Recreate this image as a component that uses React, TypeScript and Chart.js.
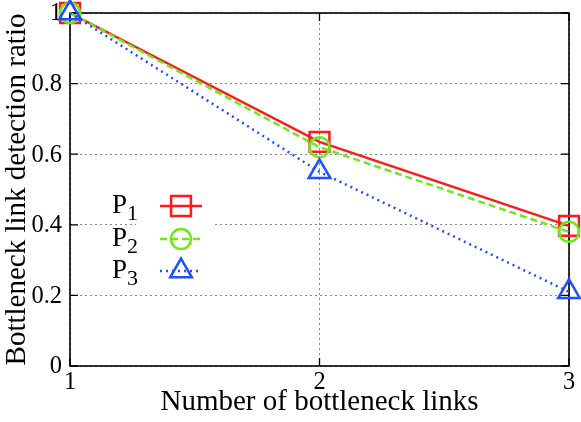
import React, { useEffect, useRef } from "react";
import { Chart, registerables } from "chart.js";

Chart.register(...registerables);

const categories = [1, 2, 3];
const p1 = [1.0, 0.635, 0.397];
const p2 = [1.0, 0.62, 0.38];
const p3 = [1.0, 0.55, 0.21];
const seriesNames = ["P1", "P2", "P3"];
const yTicks = [0, 0.2, 0.4, 0.6, 0.8, 1];
const xTitle = "Number of bottleneck links";
const yTitle = "Bottleneck link detection ratio";

const RED = "#ff1a1a";
const GREEN = "#6ee81a";
const BLUE = "#1f4fff";
const FONT = "'Liberation Serif', 'DejaVu Serif', serif";

function drawMarker(ctx: CanvasRenderingContext2D, style: string, radius: number, x: number, y: number) {
  ctx.beginPath();
  if (style === "rect") {
    const s = radius / Math.SQRT2;
    ctx.rect(x - s, y - s, 2 * s, 2 * s);
  } else if (style === "circle") {
    ctx.arc(x, y, radius, 0, Math.PI * 2);
  } else {
    const h = radius;
    ctx.moveTo(x, y - h);
    ctx.lineTo(x + h * Math.sin(Math.PI / 3), y + h * 0.5);
    ctx.lineTo(x - h * Math.sin(Math.PI / 3), y + h * 0.5);
    ctx.closePath();
  }
  ctx.stroke();
}

const framePlugin = {
  id: "frame",
  beforeDatasetsDraw(chart: any) {
    const { ctx, chartArea: a, scales } = chart;
    ctx.save();
    ctx.strokeStyle = "#000";
    ctx.lineWidth = 1.3;
    const ys = scales.y;
    const xs = scales.x;
    ctx.fillStyle = "#000";
    ctx.font = `24.5px ${FONT}`;
    yTicks.forEach((v) => {
      const py = ys.getPixelForValue(v);
      ctx.beginPath();
      ctx.moveTo(a.left, py);
      ctx.lineTo(a.left + 8, py);
      ctx.moveTo(a.right, py);
      ctx.lineTo(a.right - 8, py);
      ctx.stroke();
      ctx.textAlign = "right";
      ctx.textBaseline = "middle";
      ctx.fillText(String(v), a.left - 8, py + 1);
    });
    categories.forEach((v) => {
      const px = xs.getPixelForValue(v);
      ctx.beginPath();
      ctx.moveTo(px, a.bottom);
      ctx.lineTo(px, a.bottom - 8);
      ctx.moveTo(px, a.top);
      ctx.lineTo(px, a.top + 8);
      ctx.stroke();
      ctx.textAlign = "center";
      ctx.textBaseline = "top";
      ctx.fillText(String(v), px, a.bottom + 4);
    });
    ctx.lineWidth = 1.6;
    ctx.strokeRect(a.left, a.top, a.right - a.left, a.bottom - a.top);
    ctx.restore();
  },
  afterDatasetsDraw(chart: any) {
    const { ctx } = chart;
    ctx.save();
    ctx.fillStyle = "#fff";
    ctx.fillRect(136, 192, 76, 96);
    const rows = [
      { y: 206, color: RED, dash: [] as number[], style: "rect", radius: 14 },
      { y: 239, color: GREEN, dash: [7, 4], style: "circle", radius: 10 },
      { y: 271, color: BLUE, dash: [2, 4], style: "triangle", radius: 12.5 },
    ];
    rows.forEach((r, i) => {
      ctx.fillStyle = "#000";
      ctx.textBaseline = "alphabetic";
      ctx.textAlign = "left";
      ctx.font = `27px ${FONT}`;
      const name = seriesNames[i];
      ctx.fillText(name.charAt(0), 112, r.y + 7);
      const w = ctx.measureText(name.charAt(0)).width;
      ctx.font = `22px ${FONT}`;
      ctx.fillText(name.slice(1), 112 + w, r.y + 14);
      ctx.strokeStyle = r.color;
      ctx.lineWidth = 2.5;
      ctx.setLineDash(r.dash);
      ctx.beginPath();
      ctx.moveTo(160, r.y);
      ctx.lineTo(202, r.y);
      ctx.stroke();
      ctx.setLineDash([]);
      drawMarker(ctx, r.style, r.radius, 181, r.y);
    });
    ctx.restore();
  },
};

export default function App() {
  const ref = useRef<HTMLCanvasElement>(null);
  useEffect(() => {
    document.body.style.margin = "0";
    const mk = (label: string, data: number[], color: string, dash: number[], style: string, r: number, order: number) => ({
      label,
      data: categories.map((c, i) => ({ x: c, y: data[i] })),
      borderColor: color,
      backgroundColor: "transparent",
      borderWidth: 2.5,
      borderDash: dash,
      pointStyle: style,
      pointRadius: r,
      pointBorderWidth: 2.5,
      pointBorderColor: color,
      pointBackgroundColor: "transparent",
      tension: 0,
      clip: false,
      order,
    });
    const chart = new Chart(ref.current!, {
      type: "line",
      data: {
        datasets: [
          mk("P1", p1, RED, [], "rect", 14, 3),
          mk("P2", p2, GREEN, [7, 4], "circle", 10, 2),
          mk("P3", p3, BLUE, [2, 4], "triangle", 12.5, 1),
        ],
      },
      plugins: [framePlugin],
      options: {
        animation: false,
        responsive: false,
        layout: { autoPadding: false, padding: { top: 13, right: 12, left: 0, bottom: 0 } },
        plugins: { legend: { display: false }, tooltip: { enabled: false } },
        scales: {
          x: {
            type: "linear",
            min: 1,
            max: 3,
            afterFit: (s: any) => { s.height = 56; },
            afterBuildTicks: (s: any) => { s.ticks = categories.map((v) => ({ value: v })); },
            ticks: { display: false },
            grid: { color: "#888", lineWidth: 1, drawTicks: false },
            border: { display: false, dash: [2, 3] },
            title: { display: true, text: xTitle, font: { family: FONT, size: 29 }, color: "#000", padding: { top: 0, bottom: 2 } },
          },
          y: {
            min: 0,
            max: 1,
            afterFit: (s: any) => { s.width = 70; },
            afterBuildTicks: (s: any) => { s.ticks = yTicks.map((v) => ({ value: v })); },
            ticks: { display: false },
            grid: { color: "#888", lineWidth: 1, drawTicks: false },
            border: { display: false, dash: [2, 3] },
            title: { display: true, text: yTitle, font: { family: FONT, size: 29 }, color: "#000", padding: { top: 0, bottom: 0 } },
          },
        },
      } as any,
    });
    return () => chart.destroy();
  }, []);
  return (
    <div style={{ position: "absolute", left: 0, top: 0, width: 581, height: 422 }}>
      <canvas ref={ref} width={581} height={422} style={{ width: 581, height: 422 }} />
    </div>
  );
}
